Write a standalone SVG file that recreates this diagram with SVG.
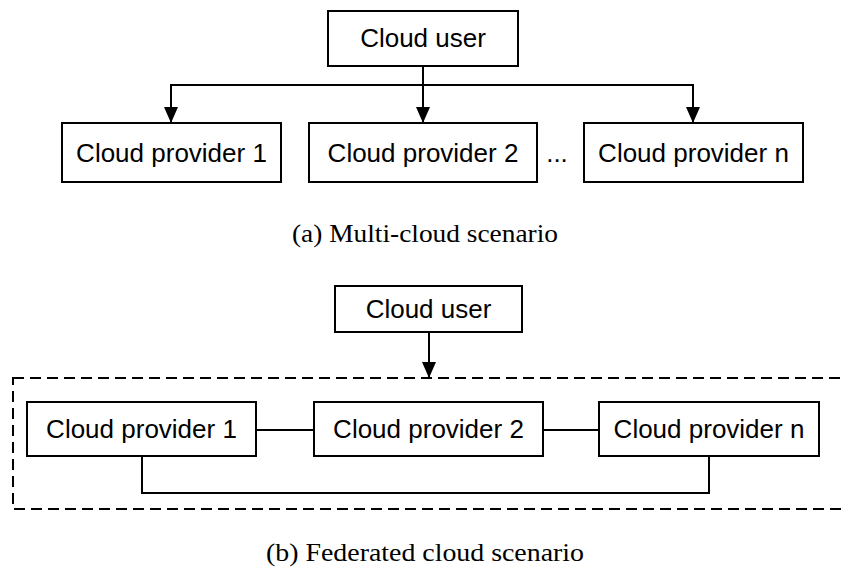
<svg xmlns="http://www.w3.org/2000/svg" width="844" height="568" viewBox="0 0 844 568">
<style>
.box{fill:#fff;stroke:#000;stroke-width:2}
.lbl{font-family:"Liberation Sans",Arial,sans-serif;font-size:26px;text-anchor:middle;fill:#000}
.cap{font-family:"Liberation Serif","Times New Roman",serif;font-size:26px;text-anchor:middle;fill:#000}
.ln{fill:none;stroke:#000;stroke-width:2}
.dash{fill:none;stroke:#000;stroke-width:2;stroke-dasharray:11 6}
</style>
<defs>
<marker id="arr" markerWidth="16" markerHeight="16" viewBox="0 0 16 16" refX="15" refY="8" orient="auto" markerUnits="userSpaceOnUse">
<path d="M0,1 L16,8 L0,15 Z" fill="#000"/>
</marker>
</defs>
<rect x="0" y="0" width="844" height="568" fill="#fff"/>
<g id="federation-boundary">
<rect class="dash" x="13" y="378" width="850" height="131"/>
</g>
<g id="connectors">
<path class="ln" d="M423,66 V85"/>
<path class="ln" d="M423,85 V122" marker-end="url(#arr)"/>
<path class="ln" d="M423,85 H171 V122" marker-end="url(#arr)"/>
<path class="ln" d="M423,85 H693 V122" marker-end="url(#arr)"/>
<path class="ln" d="M429,332 V377" marker-end="url(#arr)"/>
<path class="ln" d="M256,430 H314"/>
<path class="ln" d="M543,430 H599"/>
<path class="ln" d="M142,456 V493 H709 V456"/>
</g>
<g id="a-user">
<rect class="box" x="328" y="11" width="190" height="55"/>
<text class="lbl" x="423" y="47">Cloud user</text>
</g>
<g id="a-provider1">
<rect class="box" x="62" y="123" width="219" height="59"/>
<text class="lbl" x="171.5" y="161.5">Cloud provider 1</text>
</g>
<g id="a-provider2">
<rect class="box" x="309" y="123" width="228" height="59"/>
<text class="lbl" x="423" y="161.5">Cloud provider 2</text>
</g>
<text class="lbl" x="557" y="161.5">...</text>
<g id="a-providern">
<rect class="box" x="584" y="123" width="219" height="59"/>
<text class="lbl" x="693.5" y="161.5">Cloud provider n</text>
</g>
<text class="cap" x="425" y="242" textLength="266" lengthAdjust="spacingAndGlyphs">(a) Multi-cloud scenario</text>
<g id="b-user">
<rect class="box" x="335" y="286" width="187" height="46"/>
<text class="lbl" x="428.5" y="318">Cloud user</text>
</g>
<g id="b-provider1">
<rect class="box" x="27" y="402" width="229" height="54"/>
<text class="lbl" x="141.5" y="438">Cloud provider 1</text>
</g>
<g id="b-provider2">
<rect class="box" x="314" y="402" width="229" height="54"/>
<text class="lbl" x="428.5" y="438">Cloud provider 2</text>
</g>
<g id="b-providern">
<rect class="box" x="599" y="402" width="220" height="54"/>
<text class="lbl" x="709" y="438">Cloud provider n</text>
</g>
<text class="cap" x="425" y="561" textLength="318" lengthAdjust="spacingAndGlyphs">(b) Federated cloud scenario</text>
</svg>
